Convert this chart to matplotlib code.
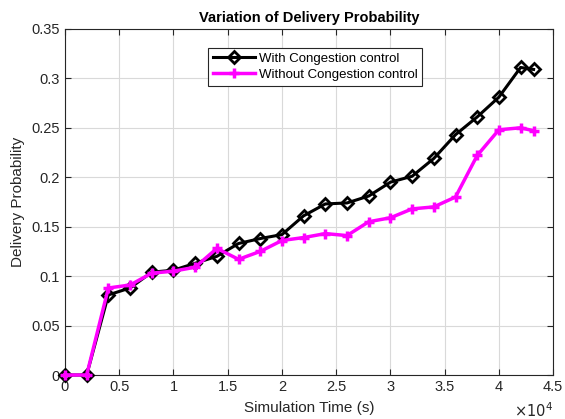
import matplotlib
matplotlib.use("Agg")
import matplotlib.pyplot as plt
import numpy as np

plt.rcParams['font.family'] = ['Liberation Sans', 'DejaVu Sans']

time_s = [0, 2000, 4000, 6000, 8000, 10000, 12000, 14000, 16000, 18000, 20000,
          22000, 24000, 26000, 28000, 30000, 32000, 34000, 36000, 38000, 40000,
          42000, 43200]
with_cc = [0, 0, 0.081, 0.088, 0.104, 0.106, 0.113, 0.120, 0.133, 0.138, 0.142,
           0.161, 0.173, 0.174, 0.181, 0.195, 0.201, 0.219, 0.243, 0.261, 0.281,
           0.311, 0.309]
without_cc = [0, 0, 0.088, 0.091, 0.103, 0.105, 0.109, 0.128, 0.117, 0.125, 0.136,
              0.139, 0.143, 0.141, 0.155, 0.159, 0.168, 0.170, 0.180, 0.222, 0.248,
              0.250, 0.247]
xticks = [0, 5000, 10000, 15000, 20000, 25000, 30000, 35000, 40000, 45000]
xticklabels = ['0', '0.5', '1', '1.5', '2', '2.5', '3', '3.5', '4', '4.5']
yticks = [0, 0.05, 0.1, 0.15, 0.2, 0.25, 0.3, 0.35]
yticklabels = ['0', '0.05', '0.1', '0.15', '0.2', '0.25', '0.3', '0.35']

fig = plt.figure(figsize=(5.65, 4.19), dpi=100)
ax = fig.add_axes([0.115, 0.105, 0.864, 0.826])

ax.plot(time_s, with_cc, color='black', lw=2.2, marker='D', ms=6,
        mfc='none', mec='black', mew=2.0, label='With Congestion control',
        zorder=3, clip_on=False)
ax.plot(time_s, without_cc, color='#ff00ff', lw=2.5, marker='+', ms=7.5,
        mec='#ff00ff', mew=2.5, label='Without Congestion control',
        zorder=4, clip_on=False)

ax.set_xlim(0, 45000)
ax.set_ylim(0, 0.35)
ax.set_xticks(xticks)
ax.set_xticklabels(xticklabels)
ax.set_yticks(yticks)
ax.set_yticklabels(yticklabels)
ax.grid(True, color='#d9d9d9', lw=0.8)
ax.set_axisbelow(True)
ax.tick_params(direction='in', top=True, right=True, labelsize=10.5,
               colors='#262626', length=4)
for s in ax.spines.values():
    s.set_color('#262626')
    s.set_linewidth(0.8)

ax.set_xlabel('Simulation Time (s)', fontsize=11, color='#262626', labelpad=5)
ax.set_ylabel('Delivery Probability', fontsize=11, color='#262626', labelpad=5)
ax.set_title('Variation of Delivery Probability', fontsize=10.5, fontweight='bold', pad=5)
ax.text(1.0, -0.075, r'$\times10^4$', transform=ax.transAxes, ha='right', va='top',
        fontsize=10.5, color='#262626')

leg = ax.legend(loc='upper left', bbox_to_anchor=(0.293, 0.945), fontsize=9.5,
                fancybox=False, edgecolor='#262626', framealpha=1,
                handlelength=3.2, borderpad=0.35, labelspacing=0.3,
                handletextpad=0.3, borderaxespad=0)
leg.get_frame().set_linewidth(0.8)

fig.savefig('out.png', dpi=100)
